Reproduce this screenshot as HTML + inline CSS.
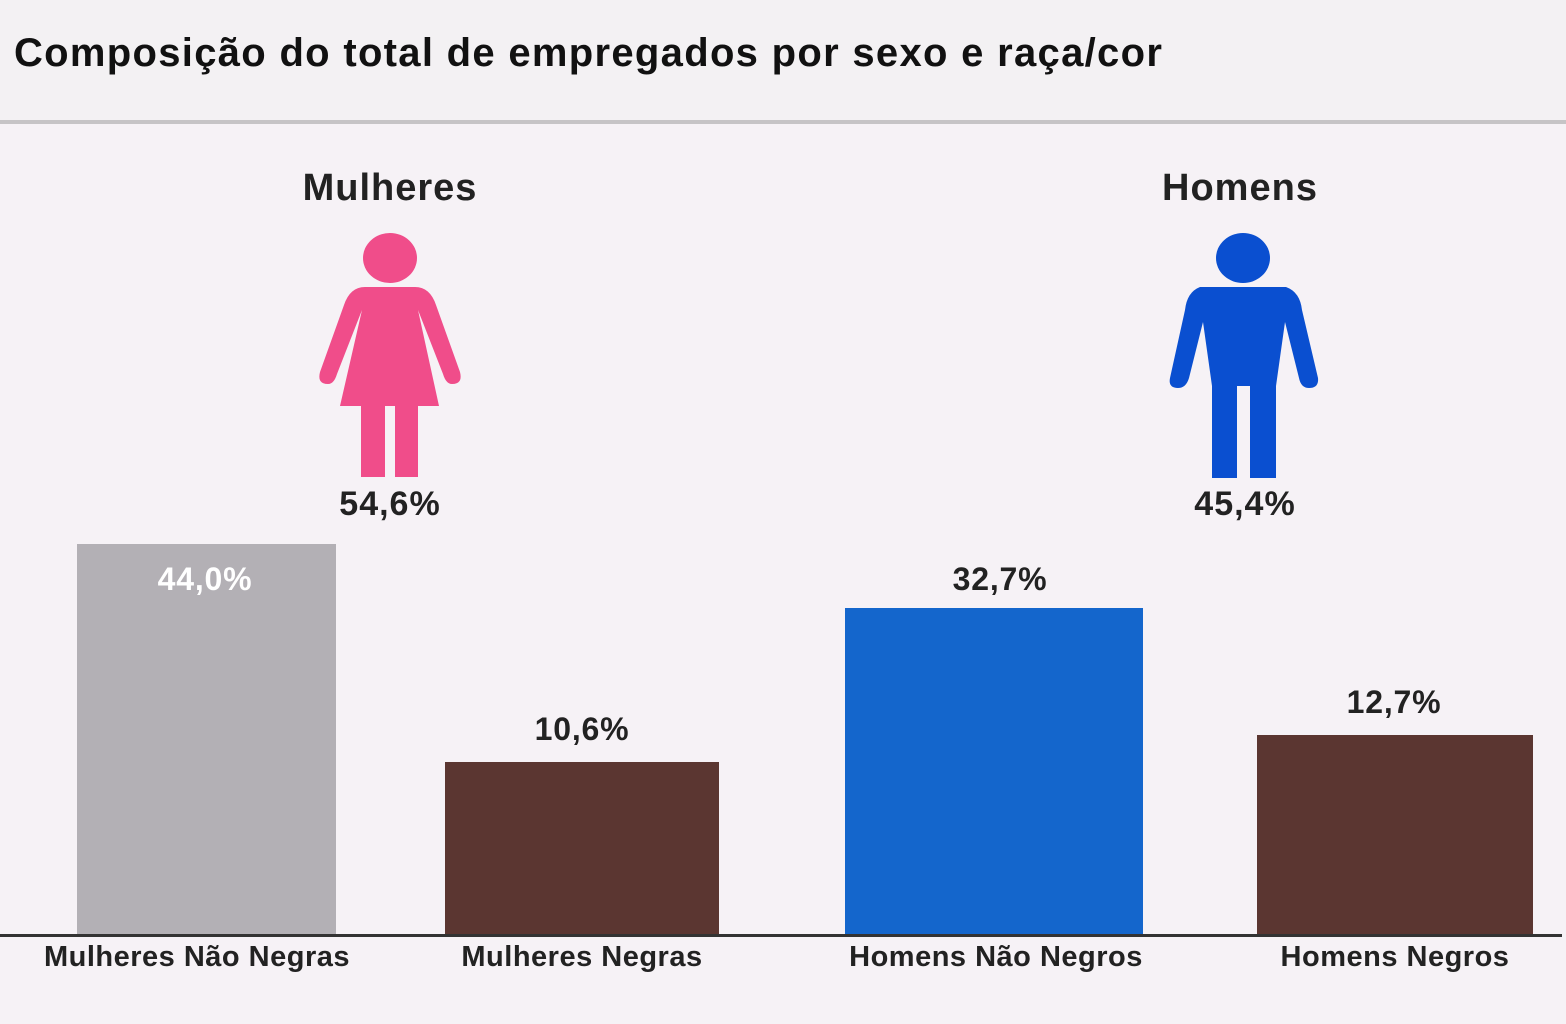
<!DOCTYPE html>
<html><head><meta charset="utf-8"><style>
body{margin:0;width:1566px;height:1024px;background:#f6f2f6;font-family:"Liberation Sans",sans-serif;overflow:hidden;position:relative}
.t{position:absolute;font-weight:bold;color:#222;white-space:nowrap}
.b{position:absolute}
</style></head><body>
<div style="position:absolute;left:0;top:0;width:1566px;height:120px;background:#f3f1f3"></div>
<div style="position:absolute;left:0;top:120px;width:1566px;height:4px;background:#c6c4c6"></div>
<div class="t" style="left:14px;top:31px;font-size:40px;letter-spacing:1.3px;color:#111">Composição do total de empregados por sexo e raça/cor</div>
<div class="t" style="left:240px;width:300px;text-align:center;top:167px;font-size:38px;letter-spacing:1px">Mulheres</div>
<div class="t" style="left:1090px;width:300px;text-align:center;top:167px;font-size:38px;letter-spacing:1px">Homens</div>
<svg width="1566" height="1024" style="position:absolute;left:0;top:0">
<g fill="#f04d8a">
<ellipse cx="390" cy="258" rx="27" ry="25"/>
<path d="M365 287 L415 287 Q430 287 436 305 L460 372 Q463 384 452 384 Q446 384 443 374 L418 310 L439 406 L340 406 L362 310 L337 374 Q334 384 328 384 Q317 384 320 372 L344 305 Q350 287 365 287Z"/>
<rect x="361" y="404" width="24" height="73"/><rect x="395" y="404" width="23" height="73"/>
</g>
<g fill="#0a4fd0">
<ellipse cx="1243" cy="258" rx="27" ry="25"/>
<path d="M1200 287 L1286 287 Q1300 292 1302 310 L1318 378 Q1319 388 1309 388 Q1301 388 1299 378 L1285 322 L1276 386 L1276 478 L1250 478 L1250 386 L1237 386 L1237 478 L1212 478 L1212 386 L1203 322 L1189 378 Q1186 388 1178 388 Q1168 388 1170 378 L1185 310 Q1187 292 1200 287Z"/>
</g>
</svg>
<div class="t" style="left:240px;width:300px;text-align:center;top:485px;font-size:34px;letter-spacing:1px">54,6%</div>
<div class="t" style="left:1095px;width:300px;text-align:center;top:485px;font-size:34px;letter-spacing:1px">45,4%</div>
<div class="b" style="left:77px;top:544px;width:259px;height:390px;background:#b3b0b5"></div>
<div class="b" style="left:445px;top:762px;width:274px;height:172px;background:#5b3631"></div>
<div class="b" style="left:845px;top:608px;width:298px;height:326px;background:#1466cc"></div>
<div class="b" style="left:1257px;top:735px;width:276px;height:199px;background:#5b3631"></div>
<div class="t" style="left:55px;width:300px;text-align:center;top:561px;font-size:32px;letter-spacing:0.8px;color:#fff">44,0%</div>
<div class="t" style="left:432px;width:300px;text-align:center;top:711px;font-size:32px;letter-spacing:0.8px">10,6%</div>
<div class="t" style="left:850px;width:300px;text-align:center;top:561px;font-size:32px;letter-spacing:0.8px">32,7%</div>
<div class="t" style="left:1244px;width:300px;text-align:center;top:684px;font-size:32px;letter-spacing:0.8px">12,7%</div>
<div class="b" style="left:0;top:934px;width:1562px;height:3px;background:#333"></div>
<div class="t" style="left:-3px;width:400px;text-align:center;top:941px;font-size:29px;letter-spacing:0.5px">Mulheres Não Negras</div>
<div class="t" style="left:382px;width:400px;text-align:center;top:941px;font-size:29px;letter-spacing:0.5px">Mulheres Negras</div>
<div class="t" style="left:796px;width:400px;text-align:center;top:941px;font-size:29px;letter-spacing:0.5px">Homens Não Negros</div>
<div class="t" style="left:1195px;width:400px;text-align:center;top:941px;font-size:29px;letter-spacing:0.5px">Homens Negros</div>
</body></html>
